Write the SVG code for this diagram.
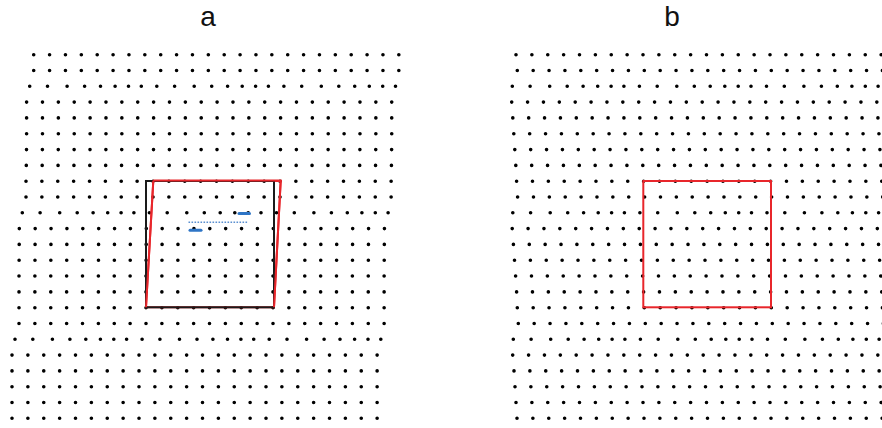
<svg xmlns="http://www.w3.org/2000/svg" xmlns:xlink="http://www.w3.org/1999/xlink" width="882" height="428" viewBox="0 0 882 428">
<style>
.dots{fill:none;stroke:#000;stroke-width:3.6;stroke-linecap:round}
.lbl{font-family:"Liberation Sans","Open Sans",sans-serif;font-size:28px;fill:#111;text-anchor:middle}
.red{fill:none;stroke:#e8262b;stroke-width:2}
.blk{fill:none;stroke:#1a1a1a;stroke-width:2}
.bluedash{stroke:#2e75c6;stroke-width:3;stroke-linecap:round}
</style>
<defs>
<path id="row" class="dots" d="M0 0h.01
m15.865 0h.01m15.865 0h.01m15.865 0h.01m15.865 0h.01m15.865 0h.01
m15.865 0h.01m15.865 0h.01m15.865 0h.01m15.865 0h.01m15.865 0h.01
m15.865 0h.01m15.865 0h.01m15.865 0h.01m15.865 0h.01m15.865 0h.01
m15.865 0h.01m15.865 0h.01m15.865 0h.01m15.865 0h.01m15.865 0h.01
m15.865 0h.01m15.865 0h.01m15.865 0h.01"/>
<path id="irow" class="dots" d="M0 0h.01
m17.79 0h.01m19.59 0h.01m17.49 0h.01m15.89 0h.01m14.59 0h.01m13.39 0h.01m12.79 0h.01
m15.49 0h.01m17.79 0h.01m19.59 0h.01m17.49 0h.01m15.89 0h.01m14.59 0h.01m13.39 0h.01m12.79 0h.01
m15.49 0h.01m17.79 0h.01m19.59 0h.01m17.49 0h.01m15.89 0h.01m14.59 0h.01m13.39 0h.01m12.79 0h.01"/>
</defs>
<rect width="882" height="428" fill="#fff"/>
<text class="lbl" x="208" y="26">a</text>
<text class="lbl" x="672" y="26">b</text>
<g id="grid-a">
<use href="#row" x="33.7" y="54.7"/>
<use href="#row" x="33.7" y="70.5"/>
<use href="#irow" x="29.7" y="86.3"/>
<use href="#row" x="26.6" y="102.1"/>
<use href="#row" x="26.6" y="117.9"/>
<use href="#row" x="26.6" y="133.8"/>
<use href="#row" x="26.5" y="149.6"/>
<use href="#row" x="26.3" y="165.4"/>
<use href="#row" x="26" y="181.2"/>
<use href="#row" x="26" y="197"/>
<use href="#irow" x="22.3" y="212.8"/>
<use href="#row" x="19.3" y="228.6"/>
<use href="#row" x="19.2" y="244.4"/>
<use href="#row" x="19.1" y="260.2"/>
<use href="#row" x="19" y="276"/>
<use href="#row" x="19" y="291.9"/>
<use href="#row" x="19" y="307.7"/>
<use href="#row" x="19" y="323.5"/>
<use href="#irow" x="15" y="339.3"/>
<use href="#row" x="12" y="355.1"/>
<use href="#row" x="12" y="370.9"/>
<use href="#row" x="12" y="386.7"/>
<use href="#row" x="12" y="402.5"/>
<use href="#row" x="12" y="418.3"/>
</g>
<g id="grid-b">
<use href="#row" x="516" y="54.7"/>
<use href="#row" x="517.3" y="70.5"/>
<use href="#irow" x="512.3" y="86.3"/>
<use href="#row" x="511.7" y="102.1"/>
<use href="#row" x="512.8" y="117.9"/>
<use href="#row" x="513.8" y="133.8"/>
<use href="#row" x="514.8" y="149.6"/>
<use href="#row" x="515.8" y="165.4"/>
<use href="#row" x="516.6" y="181.2"/>
<use href="#row" x="517.6" y="197"/>
<use href="#irow" x="512.8" y="212.8"/>
<use href="#row" x="512.2" y="228.6"/>
<use href="#row" x="513.4" y="244.4"/>
<use href="#row" x="514.5" y="260.2"/>
<use href="#row" x="515.6" y="276"/>
<use href="#row" x="516.6" y="291.9"/>
<use href="#row" x="517.3" y="307.7"/>
<use href="#row" x="518.3" y="323.5"/>
<use href="#irow" x="513.3" y="339.3"/>
<use href="#row" x="512.7" y="355.1"/>
<use href="#row" x="514" y="370.9"/>
<use href="#row" x="515" y="386.7"/>
<use href="#row" x="516" y="402.5"/>
<use href="#row" x="517" y="418.3"/>
</g>
<g id="box-a">
<path class="red" d="M153.3 181L280.7 181L274 307.3L146 307.3Z"/>
<rect class="blk" x="146" y="181" width="128" height="126.3"/>
<path class="red" d="M153.3 180.6L280.7 180.6L274 307.3M153.3 180.6L146 307.3"/>
</g>
<g id="marks-a">
<line x1="188.5" y1="222.3" x2="248.5" y2="222.3" stroke="#5b8fd0" stroke-width="1.6" stroke-dasharray="1.6 1.4"/>
<line class="bluedash" x1="239" y1="213.5" x2="249.5" y2="213.5"/>
<line class="bluedash" x1="190" y1="230.2" x2="201" y2="230.2"/>
</g>
<g id="box-b">
<rect class="red" x="643.3" y="181" width="127.7" height="126.3"/>
</g>
</svg>
